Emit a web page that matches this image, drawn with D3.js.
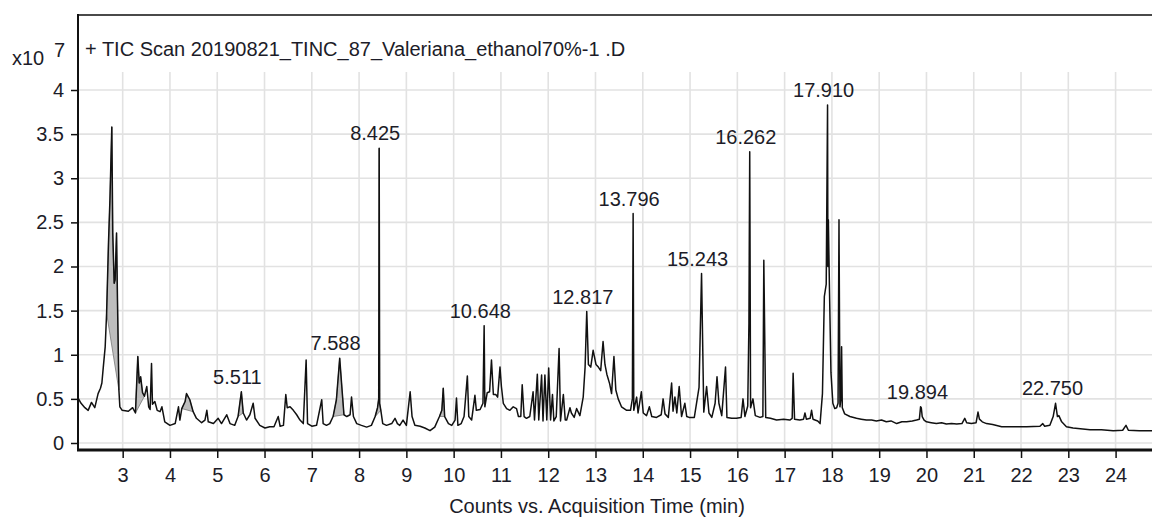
<!DOCTYPE html>
<html>
<head>
<meta charset="utf-8">
<script src="https://cdn.jsdelivr.net/npm/d3@7"></script>
<style>
  html, body { margin: 0; padding: 0; background: #fff; }
  svg { display: block; }
  text { font-family: "Liberation Sans", Arial, sans-serif; fill: #1c1c28; }
</style>
</head>
<body>
<svg id="chart" width="1152" height="520"></svg>
<script>
// ---- data (retention time in min, counts in units of 1e7) ----
const title = "+ TIC Scan 20190821_TINC_87_Valeriana_ethanol70%-1 .D";
const xTitle = "Counts vs. Acquisition Time (min)";
const xTicks = [3,4,5,6,7,8,9,10,11,12,13,14,15,16,17,18,19,20,21,22,23,24];
const yTicks = [0,0.5,1,1.5,2,2.5,3,3.5,4];
const yTickLabels = ["0","0.5","1","1.5","2","2.5","3","3.5","4"];

const trace = [
 [2.055,0.51],[2.12,0.45],[2.20,0.40],[2.27,0.37],[2.34,0.46],[2.41,0.40],[2.48,0.56],[2.53,0.62],
 [2.56,0.68],[2.59,0.86],[2.63,1.09],[2.66,1.47],[2.70,2.27],[2.73,2.75],[2.77,3.58],[2.79,2.38],
 [2.82,1.81],[2.84,1.85],[2.87,2.38],[2.89,1.62],[2.92,0.60],[2.94,0.41],[2.99,0.37],[3.12,0.36],
 [3.21,0.40],[3.27,0.34],[3.32,0.98],[3.35,0.68],[3.38,0.75],[3.42,0.57],[3.46,0.53],[3.51,0.64],
 [3.55,0.41],[3.58,0.38],[3.61,0.90],[3.63,0.44],[3.68,0.47],[3.73,0.37],[3.79,0.355],[3.83,0.41],
 [3.89,0.24],[4.00,0.20],[4.11,0.22],[4.18,0.41],[4.21,0.26],[4.25,0.39],[4.32,0.47],[4.35,0.56],
 [4.42,0.49],[4.49,0.355],[4.56,0.28],[4.67,0.23],[4.74,0.26],[4.78,0.37],[4.81,0.24],[4.92,0.22],
 [5.02,0.28],[5.09,0.22],[5.20,0.32],[5.27,0.22],[5.37,0.20],[5.44,0.30],[5.51,0.58],[5.55,0.34],
 [5.62,0.26],[5.69,0.32],[5.76,0.45],[5.80,0.28],[5.90,0.20],[6.01,0.17],[6.11,0.185],[6.20,0.185],
 [6.29,0.30],[6.33,0.19],[6.40,0.20],[6.45,0.55],[6.48,0.40],[6.54,0.41],[6.61,0.37],[6.68,0.32],
 [6.75,0.26],[6.82,0.22],[6.88,0.94],[6.91,0.22],[7.00,0.19],[7.10,0.20],[7.21,0.49],[7.24,0.22],
 [7.31,0.20],[7.38,0.22],[7.45,0.30],[7.52,0.49],[7.59,0.96],[7.64,0.60],[7.68,0.32],[7.74,0.30],
 [7.81,0.32],[7.84,0.52],[7.88,0.30],[7.95,0.22],[8.05,0.20],[8.16,0.18],[8.26,0.20],[8.34,0.30],
 [8.39,0.40],[8.415,0.50],[8.425,3.34],[8.435,0.45],[8.46,0.37],[8.50,0.22],[8.58,0.20],[8.69,0.22],
 [8.76,0.28],[8.81,0.22],[8.86,0.20],[8.93,0.26],[9.00,0.20],[9.08,0.58],[9.12,0.30],[9.18,0.20],
 [9.29,0.19],[9.39,0.17],[9.50,0.14],[9.60,0.18],[9.70,0.30],[9.75,0.37],[9.78,0.62],[9.81,0.30],
 [9.89,0.22],[9.96,0.20],[10.03,0.26],[10.06,0.51],[10.09,0.20],[10.16,0.22],[10.22,0.30],[10.29,0.76],
 [10.32,0.30],[10.38,0.26],[10.45,0.54],[10.48,0.37],[10.56,0.38],[10.62,0.45],[10.645,1.33],[10.66,0.41],
 [10.71,0.57],[10.76,0.58],[10.80,0.94],[10.84,0.55],[10.89,0.55],[10.93,0.52],[10.98,0.86],[11.01,0.64],
 [11.05,0.45],[11.12,0.39],[11.19,0.37],[11.26,0.41],[11.33,0.39],[11.37,0.30],[11.42,0.30],[11.45,0.66],
 [11.49,0.30],[11.54,0.28],[11.61,0.30],[11.68,0.58],[11.71,0.26],[11.77,0.78],[11.80,0.26],[11.86,0.77],
 [11.89,0.25],[11.93,0.77],[11.97,0.26],[12.01,0.85],[12.05,0.26],[12.09,0.55],[12.12,0.25],[12.17,0.30],
 [12.23,1.07],[12.26,0.25],[12.32,0.55],[12.36,0.26],[12.39,0.26],[12.46,0.40],[12.49,0.34],[12.55,0.29],
 [12.60,0.39],[12.67,0.31],[12.74,0.52],[12.78,0.86],[12.815,1.49],[12.85,0.89],[12.90,0.86],[12.95,1.05],
 [13.01,0.89],[13.06,0.86],[13.11,0.82],[13.16,1.15],[13.20,0.89],[13.24,0.78],[13.30,0.67],[13.34,0.56],
 [13.39,0.98],[13.43,0.60],[13.48,0.50],[13.55,0.41],[13.66,0.37],[13.74,0.37],[13.78,0.50],[13.796,2.60],
 [13.81,0.37],[13.87,0.52],[13.90,0.34],[13.97,0.58],[14.01,0.34],[14.08,0.31],[14.14,0.41],[14.19,0.30],
 [14.29,0.29],[14.39,0.32],[14.43,0.50],[14.47,0.33],[14.54,0.29],[14.61,0.68],[14.64,0.36],[14.68,0.52],
 [14.72,0.34],[14.77,0.64],[14.82,0.30],[14.89,0.45],[14.93,0.30],[14.98,0.29],[15.09,0.29],[15.19,0.63],
 [15.243,1.92],[15.29,0.35],[15.35,0.64],[15.40,0.34],[15.46,0.29],[15.53,0.45],[15.57,0.75],[15.61,0.45],
 [15.67,0.31],[15.75,0.86],[15.78,0.29],[15.88,0.28],[15.98,0.28],[16.08,0.29],[16.12,0.50],[16.16,0.30],
 [16.22,0.42],[16.245,1.35],[16.262,3.30],[16.28,0.40],[16.33,0.50],[16.38,0.31],[16.48,0.29],[16.54,0.30],
 [16.56,2.07],[16.60,0.29],[16.70,0.28],[16.83,0.26],[16.98,0.27],[17.11,0.26],[17.16,0.28],[17.18,0.79],
 [17.21,0.27],[17.32,0.26],[17.40,0.27],[17.43,0.34],[17.46,0.27],[17.54,0.28],[17.57,0.37],[17.60,0.27],
 [17.70,0.25],[17.75,0.22],[17.80,0.56],[17.84,1.66],[17.88,1.80],[17.908,3.83],[17.915,2.00],[17.925,2.53],
 [17.95,1.70],[17.98,0.80],[18.02,0.45],[18.06,0.39],[18.10,0.40],[18.13,0.45],[18.15,2.53],[18.17,0.41],
 [18.19,0.50],[18.205,1.09],[18.22,0.40],[18.27,0.33],[18.38,0.30],[18.52,0.28],[18.62,0.27],[18.73,0.26],
 [18.84,0.26],[18.94,0.25],[19.05,0.26],[19.15,0.24],[19.25,0.25],[19.37,0.22],[19.48,0.24],[19.58,0.24],
 [19.70,0.25],[19.79,0.26],[19.85,0.27],[19.875,0.41],[19.89,0.40],[19.91,0.30],[19.95,0.26],[20.00,0.24],
 [20.10,0.23],[20.21,0.22],[20.32,0.23],[20.42,0.215],[20.53,0.22],[20.64,0.215],[20.75,0.22],[20.81,0.28],
 [20.85,0.23],[20.95,0.22],[21.05,0.23],[21.09,0.35],[21.12,0.27],[21.18,0.24],[21.27,0.22],[21.40,0.21],
 [21.59,0.185],[21.83,0.185],[22.12,0.185],[22.40,0.19],[22.46,0.22],[22.50,0.19],[22.61,0.20],[22.68,0.30],
 [22.73,0.45],[22.77,0.30],[22.80,0.31],[22.86,0.24],[22.96,0.185],[23.10,0.17],[23.46,0.15],[23.70,0.15],
 [23.95,0.14],[24.15,0.145],[24.22,0.20],[24.27,0.145],[24.50,0.14],[24.77,0.14]
];

// integrated (shaded) peak windows, min
const shadedStart = [2.66, 3.27, 4.25, 5.44, 7.45, 8.34, 9.70];
const shadedEnd   = [2.92, 3.46, 4.49, 5.55, 7.68, 8.46, 9.81];

// labelled peaks: retention time and apex height (x1e7)
const labelTimes   = [5.511, 7.588, 8.425, 10.648, 12.817, 13.796, 15.243, 16.262, 17.910, 19.894, 22.750];
const labelHeights = [0.58, 0.96, 3.34, 1.33, 1.49, 2.60, 1.92, 3.30, 3.83, 0.41, 0.45];

// ---- drawing ----
const svg = d3.select("#chart");
const L = 78, R = 1152, T = 15, B = 450, gridTop = 72;
const x = d3.scaleLinear().domain([2.055, 24.77]).range([L, R]);
const y = d3.scaleLinear().domain([0, 4]).range([443, 90]);

svg.append("defs").append("clipPath").attr("id", "plotclip")
  .append("rect").attr("x", L).attr("y", gridTop - 4).attr("width", R - L).attr("height", B - gridTop + 4);

// grid
const grid = svg.append("g").attr("stroke", "#e2e2e2").attr("stroke-width", 1.6);
grid.selectAll("line.v").data(xTicks).join("line")
  .attr("x1", d => x(d)).attr("x2", d => x(d)).attr("y1", gridTop).attr("y2", B);
grid.selectAll("line.h").data(yTicks).join("line")
  .attr("x1", L).attr("x2", R).attr("y1", d => y(d)).attr("y2", d => y(d));

// shaded peaks
const plot = svg.append("g").attr("clip-path", "url(#plotclip)");
shadedStart.forEach((s, i) => {
  const e = shadedEnd[i];
  const pts = trace.filter(p => p[0] >= s && p[0] <= e);
  if (pts.length < 2) return;
  const first = pts[0], last = pts[pts.length - 1];
  const poly = pts.concat([[last[0], last[1]], [first[0], first[1]]]);
  plot.append("path")
    .attr("d", d3.line().x(p => x(p[0])).y(p => y(p[1]))(poly) + "Z")
    .attr("fill", "#bdbdbd").attr("stroke", "#777").attr("stroke-width", 0.8);
});

// trace
plot.append("path")
  .datum(trace)
  .attr("d", d3.line().x(p => x(p[0])).y(p => y(p[1])))
  .attr("fill", "none").attr("stroke", "#111").attr("stroke-width", 1.5)
  .attr("stroke-linejoin", "round");

// frame
svg.append("line").attr("x1", L).attr("x2", R).attr("y1", T).attr("y2", T)
  .attr("stroke", "#4a4a4a").attr("stroke-width", 2);
svg.append("line").attr("x1", L).attr("x2", L).attr("y1", T - 1).attr("y2", B)
  .attr("stroke", "#111").attr("stroke-width", 2);

// y axis
const yAxis = d3.axisLeft(y).tickValues(yTicks).tickSize(6).tickPadding(7)
  .tickFormat((d, i) => yTickLabels[i]);
const gy = svg.append("g").attr("transform", `translate(${L - 1},0)`).call(yAxis);
gy.select(".domain").remove();
gy.selectAll(".tick line").attr("stroke", "#111").attr("stroke-width", 1.5);
gy.selectAll(".tick text").style("font-size", "20px").attr("fill", "#1c1c28")
  .style("font-family", '"Liberation Sans", Arial, sans-serif');

// x axis
const xAxis = d3.axisBottom(x).tickValues(xTicks).tickSize(8).tickPadding(10).tickFormat(d3.format("d"));
const gx = svg.append("g").attr("transform", `translate(0,${B})`).call(xAxis);
gx.select(".domain").remove();
gx.selectAll(".tick line").attr("stroke", "#111").attr("stroke-width", 1.5);
gx.selectAll(".tick text").style("font-size", "20px").attr("fill", "#1c1c28")
  .style("font-family", '"Liberation Sans", Arial, sans-serif');
svg.append("line").attr("x1", L - 1).attr("x2", R).attr("y1", B).attr("y2", B)
  .attr("stroke", "#111").attr("stroke-width", 3);

// axis titles
svg.append("text").attr("x", 597).attr("y", 513).attr("text-anchor", "middle")
  .style("font-size", "20px").text(xTitle);
svg.append("text").attr("x", 12).attr("y", 65).style("font-size", "20px").text("x10");
svg.append("text").attr("x", 54).attr("y", 57).style("font-size", "20px").text("7");

// chart title
svg.append("text").attr("x", 85).attr("y", 56).style("font-size", "20px").text(title);

// peak labels
svg.append("g").selectAll("text").data(labelTimes).join("text")
  .attr("x", d => x(d) - 4)
  .attr("y", (d, i) => y(labelHeights[i]) - 8)
  .attr("text-anchor", "middle")
  .style("font-size", "20px")
  .text(d => d.toFixed(3));
</script>
</body>
</html>
